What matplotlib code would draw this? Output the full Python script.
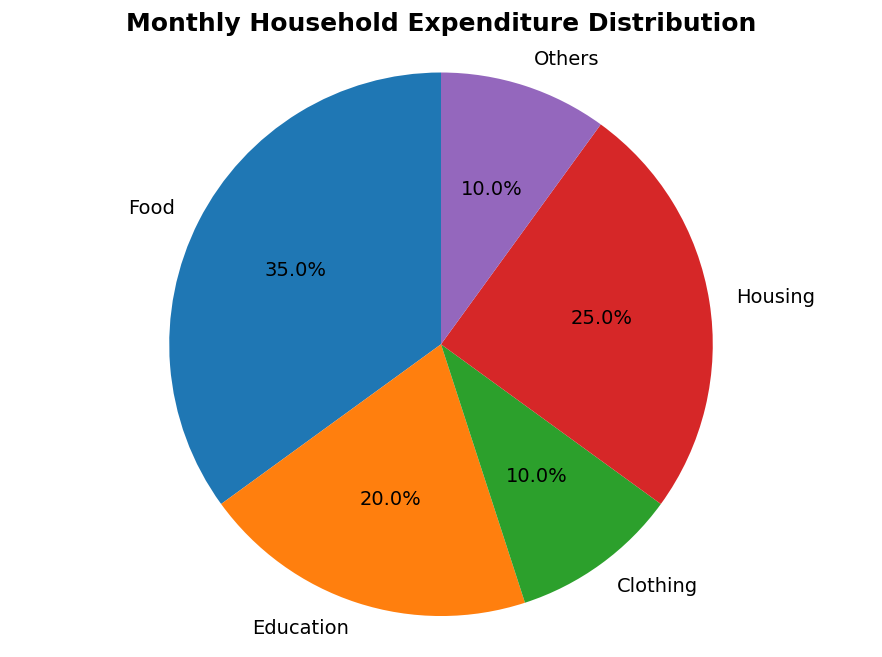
import matplotlib
matplotlib.use("Agg")
import matplotlib.pyplot as plt

categories = ["Food", "Education", "Clothing", "Housing", "Others"]
shares = [35, 20, 10, 25, 10]
colors = ["#1f77b4", "#ff7f0e", "#2ca02c", "#d62728", "#9467bd"]

fig, ax = plt.subplots(figsize=(8.82, 6.57), dpi=100)
ax.pie(shares, labels=categories, colors=colors, autopct="%1.1f%%",
       startangle=90, textprops={"fontsize": 14})
ax.axis("equal")
ax.set_title("Monthly Household Expenditure Distribution", fontsize=18, fontweight="bold", pad=10)
plt.subplots_adjust(left=0.03, right=0.97, top=0.931, bottom=0.021)
fig.savefig("out.png", dpi=100)
